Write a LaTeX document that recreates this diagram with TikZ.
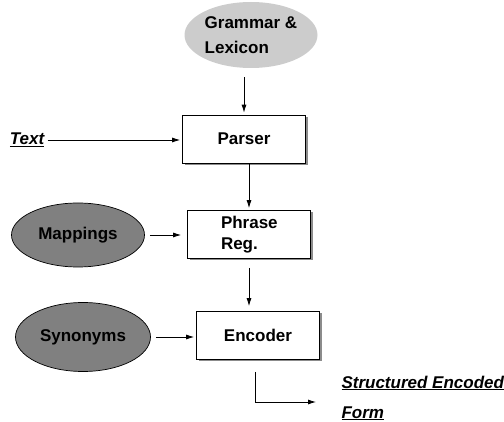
\documentclass[tikz,border=0pt]{standalone}
\usepackage{fontspec}
\setmainfont{Liberation Sans}
\usetikzlibrary{arrows.meta,shapes.geometric,shadows}

\begin{document}
\begin{tikzpicture}[x=1pt,y=-1pt,>={Latex[length=8pt,width=5pt]},shorten >=2pt]
  \tikzstyle{stagebox}=[draw,line width=0.7pt,fill=white,minimum width=123pt,minimum height=48pt,align=center,
    font=\fontsize{17}{21}\selectfont\bfseries,
    drop shadow={shadow xshift=2pt,shadow yshift=-2pt,fill=black!45,opacity=1}]
  \tikzstyle{resource}=[ellipse,inner sep=0pt,align=left,font=\fontsize{17}{25}\selectfont\bfseries]
  \tikzstyle{darkres}=[resource,draw,line width=0.7pt,fill=black!50]
  \tikzstyle{outtext}=[align=left,font=\fontsize{17}{30}\selectfont\bfseries\itshape]
  \tikzstyle{flow}=[->,line width=0.8pt]
  \useasboundingbox (0,0) rectangle (504,422);
  \node[resource,fill=black!20,minimum width=133pt,minimum height=66pt] (gl) at (251,35) {Grammar \&\\Lexicon};
  \node[stagebox] (parser) at (244,139) {Parser};
  \node[stagebox,align=left,text width=56pt] (phrase) at (249,234.5) {Phrase\\Reg.};
  \node[stagebox] (enc)    at (258,335.5) {Encoder};
  \node[darkres,minimum width=133pt,minimum height=64pt] (map) at (78,235) {Mappings};
  \node[darkres,minimum width=135pt,minimum height=69pt] (syn) at (83,337) {Synonyms};
  \node[outtext] (txt) at (27,140) {\underline{Text}};
  \node[outtext,anchor=west] (sef) at (338,398) {\underline{Structured Encoded}\\\underline{Form}};
  \coordinate (out) at (318,402);
  \draw[flow,shorten <=9pt] (gl.south -| parser.north) -- (parser.north);
  \draw[flow] (txt.east) -- (txt.east -| parser.west);
  \draw[flow] (phrase.north |- parser.south) -- (phrase.north);
  \draw[flow,shorten <=9pt,shorten >=5pt] (phrase.south) -- (phrase.south |- enc.north);
  \draw[flow,shorten <=5pt,shorten >=6pt] (map.east) -- (map.east -| phrase.west);
  \draw[flow,shorten <=5pt] (syn.east) -- (syn.east -| enc.west);
  \draw[flow,shorten <=12pt] ([xshift=-3pt]enc.south) |- (out);
\end{tikzpicture}
\end{document}
